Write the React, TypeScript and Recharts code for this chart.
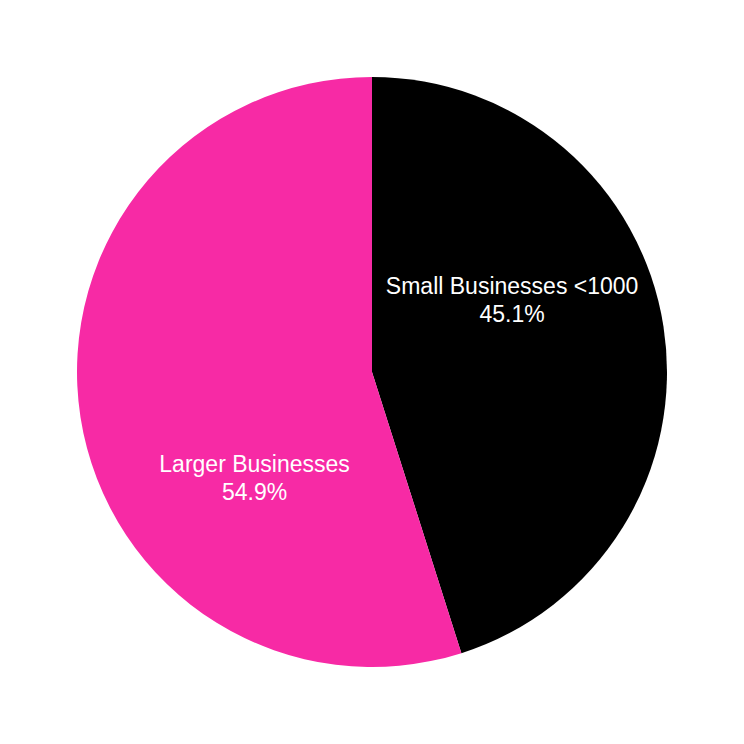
import { Cell, Pie, PieChart } from 'recharts'

const categories = ['Small Businesses <1000', 'Larger Businesses']
const shares = [45.1, 54.9]
const colors = ['#000000', '#F72AA5']
// where each inside label sits, as a fraction of the radius from the centre
const labelOffsets = [
  [0.475, -0.248],
  [-0.398, 0.355],
]

const data = categories.map((name, i) => ({ name, value: shares[i] }))

function InsideLabel(props: any) {
  const { cx, cy, outerRadius, index } = props
  const [fx, fy] = labelOffsets[index]
  const x = cx + fx * outerRadius
  const y = cy + fy * outerRadius
  return (
    <text
      x={x}
      y={y}
      fill="#ffffff"
      textAnchor="middle"
      fontFamily="'Liberation Sans', Arial, sans-serif"
      fontSize={23}
    >
      <tspan x={x} dy={-5}>
        {data[index].name}
      </tspan>
      <tspan x={x} dy={28}>
        {shares[index].toFixed(1)}%
      </tspan>
    </text>
  )
}

export default function App() {
  return (
    <div style={{ position: 'absolute', left: 0, top: 0, background: '#fff' }}>
      <PieChart width={744} height={744} margin={{ top: 0, right: 0, bottom: 0, left: 0 }}>
        <Pie
          data={data}
          dataKey="value"
          nameKey="name"
          cx="50%"
          cy="50%"
          outerRadius={295}
          startAngle={90}
          endAngle={-270}
          stroke="none"
          label={InsideLabel}
          labelLine={false}
          isAnimationActive={false}
        >
          {data.map((d, i) => (
            <Cell key={d.name} fill={colors[i]} />
          ))}
        </Pie>
      </PieChart>
    </div>
  )
}
